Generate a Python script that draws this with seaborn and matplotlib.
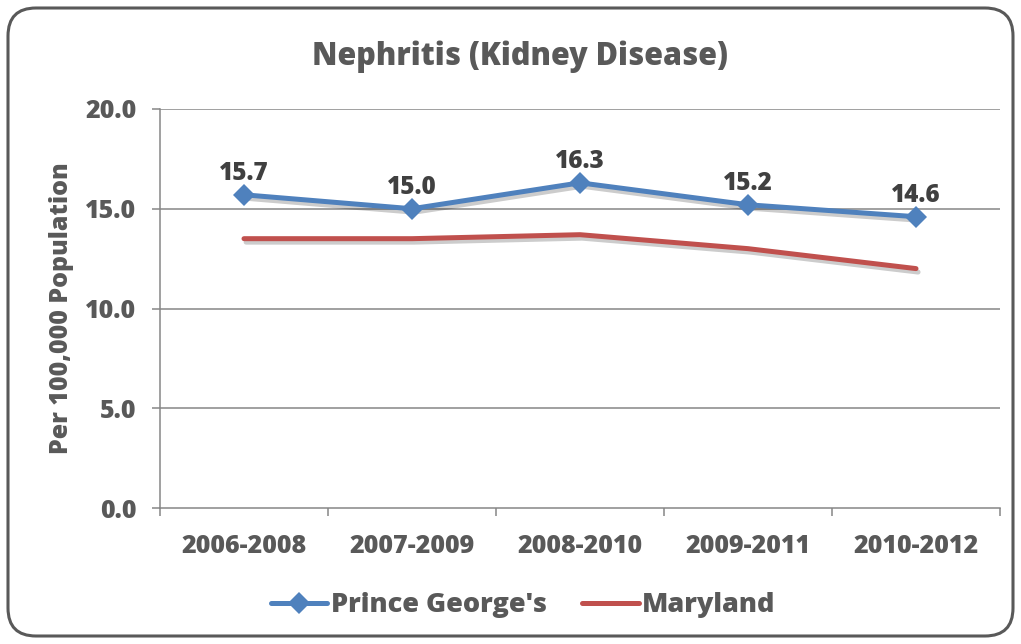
import pandas as pd
import matplotlib.pyplot as plt
import seaborn as sns
from matplotlib.patches import FancyBboxPatch
import matplotlib.patheffects as pe

# Chart values
periods = ["2006-2008", "2007-2009", "2008-2010", "2009-2011", "2010-2012"]
prince_georges = [15.7, 15.0, 16.3, 15.2, 14.6]
maryland = [13.5, 13.5, 13.7, 13.0, 12.0]
y_ticks = [0, 5, 10, 15, 20]

pg_df = pd.DataFrame({"period": periods, "rate": prince_georges})
md_df = pd.DataFrame({"period": periods, "rate": maryland})

sns.set_style("white")
plt.rcParams['font.family'] = ['Open Sans', 'DejaVu Sans']
text_color = "#595959"
blue = "#4F81BD"
red = "#C0504D"
weight = 800

fig = plt.figure(figsize=(10.21, 6.44), dpi=100)
ax = fig.add_axes([160 / 1021, 1 - 508 / 644, 840 / 1021, 399 / 644])

# Gridlines first so lines sit on top
for v in y_ticks[1:]:
    ax.axhline(v, color="#868686", lw=1.1, zorder=0)

shadow = [pe.SimpleLineShadow(offset=(1.5, -2.5), alpha=0.2, shadow_color="black"), pe.Normal()]
sns.lineplot(data=pg_df, x="period", y="rate", color=blue, marker="D", markersize=11,
             markeredgewidth=0, linewidth=3.6, sort=False, ax=ax, label="Prince George's")
sns.lineplot(data=md_df, x="period", y="rate", color=red, linewidth=3.6,
             sort=False, ax=ax, label="Maryland")
for line in ax.get_lines()[-2:]:
    line.set_path_effects(shadow)

# Data labels for Prince George's
for i, v in enumerate(prince_georges):
    ax.annotate(f"{v:.1f}", (i, v), xytext=(0, 6), textcoords="offset points",
                ha="center", va="bottom", fontsize=17.5, fontweight=weight, color="#404040")

ax.set_xlim(-0.5, len(periods) - 0.5)
ax.set_ylim(0, 20)
ax.set_yticks(y_ticks)
ax.set_yticklabels([f"{v:.1f}" for v in y_ticks])
ax.set_xticks(range(len(periods)))
ax.set_xticklabels(periods)
ax.set_xticks([i - 0.5 for i in range(len(periods) + 1)], minor=True)
ax.tick_params(axis="x", which="major", length=0, pad=19)
ax.tick_params(axis="x", which="minor", length=6, width=1.1, color="#868686", direction="out", bottom=True)
ax.tick_params(axis="y", length=6, width=1.1, color="#868686", direction="out", pad=11, left=True)
for lbl in ax.get_xticklabels() + ax.get_yticklabels():
    lbl.set_fontsize(18)
    lbl.set_fontweight(weight)
    lbl.set_color(text_color)

for side in ["top", "right"]:
    ax.spines[side].set_visible(False)
for side in ["left", "bottom"]:
    ax.spines[side].set_color("#868686")
    ax.spines[side].set_linewidth(1.1)

ax.set_xlabel("")
ax.set_ylabel("")
fig.text(62 / 1021, 1 - 308 / 644, "Per 100,000 Population", rotation=90, ha="center", va="center",
         fontsize=18, fontweight=weight, color=text_color)

fig.text(520 / 1021, 1 - 57 / 644, "Nephritis (Kidney Disease)", ha="center", va="center",
         fontsize=22, fontweight=weight, color=text_color)

handles, labels = ax.get_legend_handles_labels()
leg = ax.legend(handles, labels, loc="center", bbox_to_anchor=(523 / 1021, 1 - 605 / 644),
                bbox_transform=fig.transFigure, ncol=2, frameon=False, handlelength=2.1,
                handletextpad=0.12, columnspacing=1.3,
                prop={"size": 19.5, "weight": weight}, labelcolor=text_color)
for h in leg.legend_handles:
    h.set_path_effects([])

# Rounded outer frame
frame = FancyBboxPatch((0.08, 0.08), 10.21 - 0.16, 6.44 - 0.16,
                       boxstyle="round,pad=0,rounding_size=0.28",
                       transform=fig.dpi_scale_trans, fill=False,
                       edgecolor="#595959", linewidth=2.2)
fig.patches.append(frame)

fig.savefig("out.png", dpi=100)
